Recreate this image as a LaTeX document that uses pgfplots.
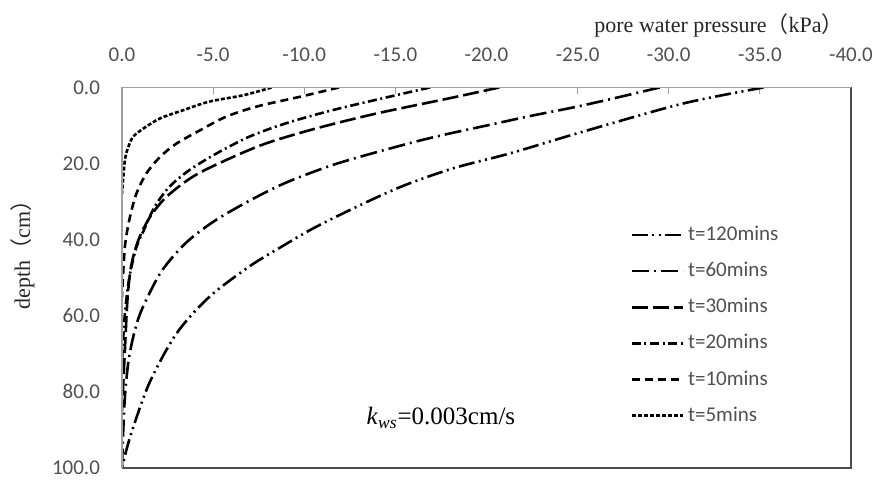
\documentclass[border=0pt]{standalone}
\usepackage{fontspec}
\setmainfont{Liberation Serif}
\newfontfamily\calib{Carlito}
\newfontfamily\cjk{Noto Sans CJK SC}
\usepackage{pgfplots}
\pgfplotsset{compat=1.18}
\definecolor{tickgray}{HTML}{505050}
\definecolor{axgray}{HTML}{A0A0A0}
\definecolor{boxgray}{HTML}{4D4D4D}
\begin{document}
\begin{tikzpicture}[x=1pt,y=1pt]
\path[use as bounding box] (-61,-8.5) rectangle (378.5,234);
\begin{axis}[
  name=ax, at={(0,0)}, anchor=south west,
  width=364.5pt, height=190.25pt, scale only axis,
  xmin=-40, xmax=0, x dir=reverse,
  ymin=0, ymax=100, y dir=reverse,
  xtick={0,-5,...,-40}, ytick={0,20,...,100},
  axis line style={draw=none},
  tick align=inside,
  major tick length=3.3pt,
  xtick style={axgray, line width=0.6pt},
  ytick style={draw=none},
  xtick pos=right, xticklabel pos=right,
  ytick pos=left, yticklabel pos=left,
  /pgf/number format/.cd, fixed, fixed zerofill, precision=1, assume math mode=true,
  /pgfplots/.cd,
  ticklabel style={font=\calib\fontsize{10.5}{12}\selectfont, text=tickgray},
  xticklabel style={yshift=9.4pt},
  yticklabel style={xshift=-7.5pt},
  xlabel={pore water pressure{\cjk （}kPa{\cjk ）}},
  ylabel={depth{\cjk （}cm{\cjk ）}},
  label style={font=\fontsize{11}{13}\selectfont, text=black!85},
  xlabel style={at={(axis description cs:0.819,1.162)}, anchor=center},
  ylabel style={at={(axis description cs:-0.136,0.575)}, anchor=center},
  legend style={at={(axis description cs:0.697,0.6465)}, anchor=north west,
    draw=none, fill=none, inner sep=0pt, row sep=5.3pt,
    font=\calib\fontsize{10.5}{12}\selectfont, text=tickgray},
  legend cell align=left,
  legend image code/.code={\draw[#1] (0pt,0pt) -- (25.5pt,0pt);},
  every axis plot/.append style={black, line width=1.3pt, smooth, tension=0.5},
]
\addplot[dash pattern=on 8pt off 2.2pt on 1pt off 2.2pt on 1pt off 2.2pt] coordinates {
(-35.2,0) (-30.8,4.2) (-25.3,11.6) (-21.3,17.3) (-18.2,21.2) (-15.4,25.9) (-12.9,31.3)
(-10.5,37) (-8.7,42) (-7.0,47) (-4.8,55) (-3.0,64.6) (-1.5,77.7) (-0.45,91.8) (0,100)};
\addlegendentry{t=120mins}
\addplot[dash pattern=on 8.5pt off 2.5pt on 1pt off 2.5pt] coordinates {
(-29.5,0) (-27.3,2.5) (-25.0,5) (-22.4,7.5) (-20.0,10) (-17.6,12.5) (-15.5,15)
(-11.8,20) (-9.0,25) (-6.9,30) (-5.1,35) (-3.7,40) (-2.7,45) (-1.95,50) (-0.95,60)
(-0.42,70) (-0.18,80) (-0.07,90) (0,100)};
\addlegendentry{t=60mins}
\addplot[dash pattern=on 8pt off 2.5pt] coordinates {
(-20.7,0) (-18.0,2.8) (-14.0,6.8) (-10.7,10.7) (-7.9,14.7) (-5.7,19.1) (-3.9,23.4)
(-2.45,28.7) (-1.54,34) (-0.9,40.1) (-0.5,47) (-0.3,55.8) (-0.16,69) (0,85)};
\addlegendentry{t=30mins}
\addplot[dash pattern=on 4.5pt off 1.8pt on 1pt off 1.8pt] coordinates {
(-16.9,0) (-14.7,2.4) (-11.6,5.9) (-9.0,9.4) (-7.0,12.9) (-5.2,17.3) (-3.7,21.7)
(-2.6,26.1) (-1.8,31.3) (-1.2,37.5) (-0.8,41.8) (-0.4,50) (-0.15,60) (0,72)};
\addlegendentry{t=20mins}
\addplot[dash pattern=on 4pt off 2.5pt] coordinates {
(-11.9,0) (-9.8,2.4) (-7.4,5.0) (-5.7,7.7) (-4.3,11.2) (-3.0,14.7) (-2.1,18.2)
(-1.35,22.5) (-0.8,27.8) (-0.44,34) (-0.16,41.8) (0,55)};
\addlegendentry{t=10mins}
\addplot[dash pattern=on 2pt off 1pt] coordinates {
(-8.2,0) (-6.7,2.0) (-4.8,3.7) (-3.4,5.9) (-2.1,8.1) (-1.2,10.7) (-0.62,12.9)
(-0.35,15.6) (-0.16,19.1) (0,28)};
\addlegendentry{t=5mins}
\node[font=\fontsize{12.5}{14}\selectfont] at (axis cs:-17.5,86.9) {\textit{k}\textsubscript{\textit{ws}}=0.003cm/s};
\end{axis}
\draw[boxgray, line width=1pt] (ax.south west) -- (ax.south east) -- (ax.north east);
\draw[axgray, line width=0.6pt] (ax.north east) -- (ax.north west) -- (ax.south west);
\end{tikzpicture}
\end{document}
